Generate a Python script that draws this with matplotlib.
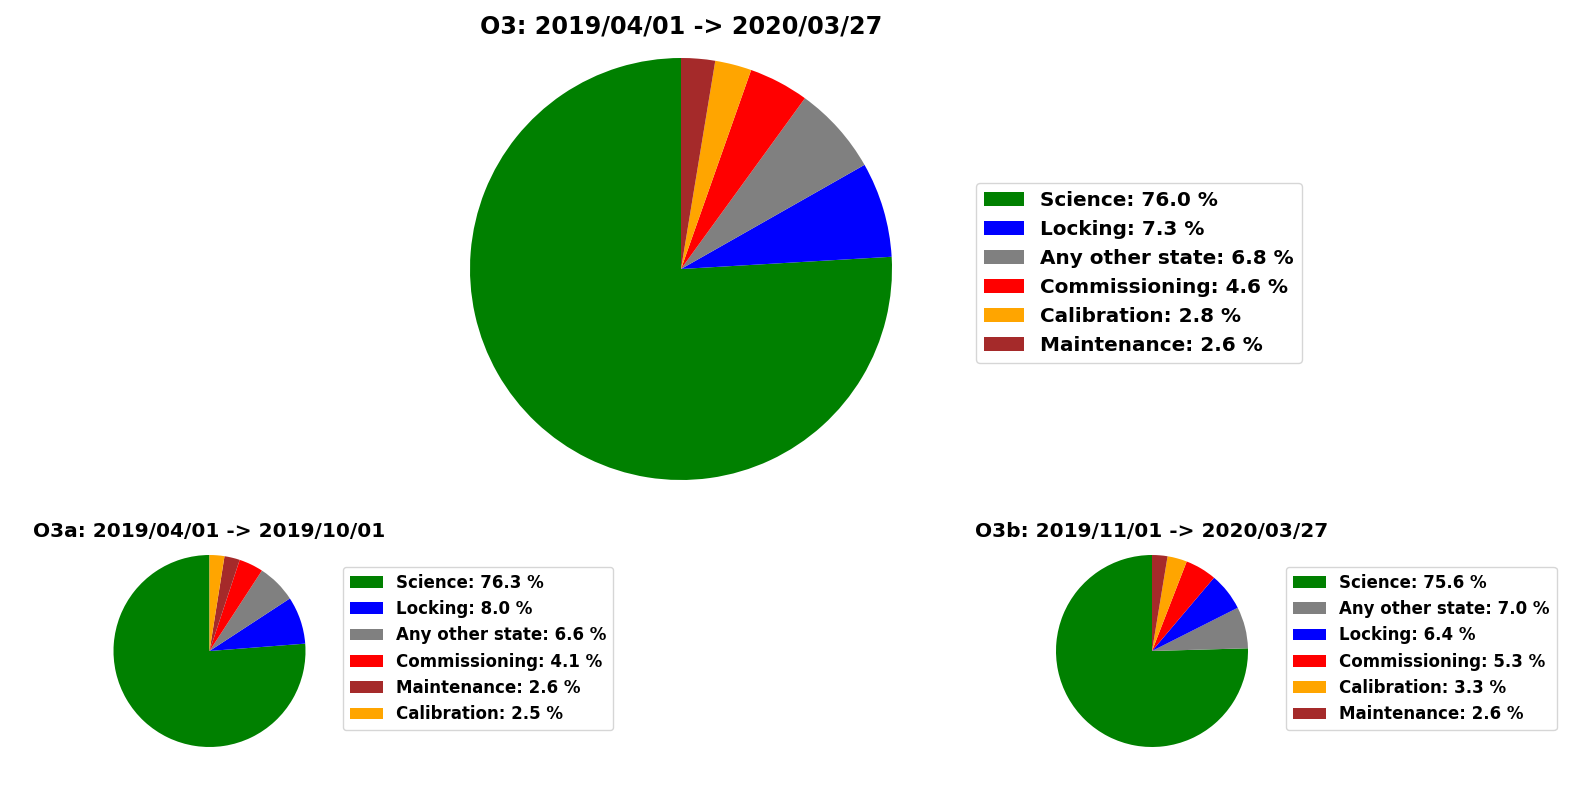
import matplotlib
matplotlib.use("Agg")
import matplotlib.pyplot as plt

# ---- data ----
o3_title = "O3: 2019/04/01 -> 2020/03/27"
o3_labels = ["Science", "Locking", "Any other state", "Commissioning", "Calibration", "Maintenance"]
o3_values = [76.0, 7.3, 6.8, 4.6, 2.8, 2.6]
o3_colors = ["green", "blue", "grey", "red", "orange", "brown"]

o3a_title = "O3a: 2019/04/01 -> 2019/10/01"
o3a_labels = ["Science", "Locking", "Any other state", "Commissioning", "Maintenance", "Calibration"]
o3a_values = [76.3, 8.0, 6.6, 4.1, 2.6, 2.5]
o3a_colors = ["green", "blue", "grey", "red", "brown", "orange"]

o3b_title = "O3b: 2019/11/01 -> 2020/03/27"
o3b_labels = ["Science", "Any other state", "Locking", "Commissioning", "Calibration", "Maintenance"]
o3b_values = [75.6, 7.0, 6.4, 5.3, 3.3, 2.6]
o3b_colors = ["green", "grey", "blue", "red", "orange", "brown"]

W, H = 1579, 795
fig = plt.figure(figsize=(W / 100, H / 100), dpi=100)


def add_pie(cx, cy, r, labels, values, colors, title, title_size, title_pad,
            leg_x, leg_y, leg_size):
    ax = fig.add_axes([(cx - r) / W, (H - cy - r) / H, 2 * r / W, 2 * r / H])
    wedges, _ = ax.pie(values, colors=colors, startangle=90, counterclock=True)
    ax.set_xlim(-1, 1)
    ax.set_ylim(-1, 1)
    ax.set_aspect("equal")
    ax.set_title(title, fontsize=title_size, fontweight="bold", pad=title_pad)
    leg_labels = [f"{l}: {v:.1f} %" for l, v in zip(labels, values)]
    fig.legend(wedges, leg_labels, loc="upper left",
               bbox_to_anchor=(leg_x / W, 1 - leg_y / H), borderaxespad=0,
               prop={"weight": "bold", "size": leg_size})
    return ax


add_pie(681, 269, 211, o3_labels, o3_values, o3_colors, o3_title, 17.2, 18,
        976, 183, 14.4)
add_pie(209.5, 651, 96, o3a_labels, o3a_values, o3a_colors, o3a_title, 14.5, 13,
        343, 567, 12)
add_pie(1152, 651, 96, o3b_labels, o3b_values, o3b_colors, o3b_title, 14.5, 13,
        1286, 567, 12)

fig.savefig("out.png", dpi=100)
